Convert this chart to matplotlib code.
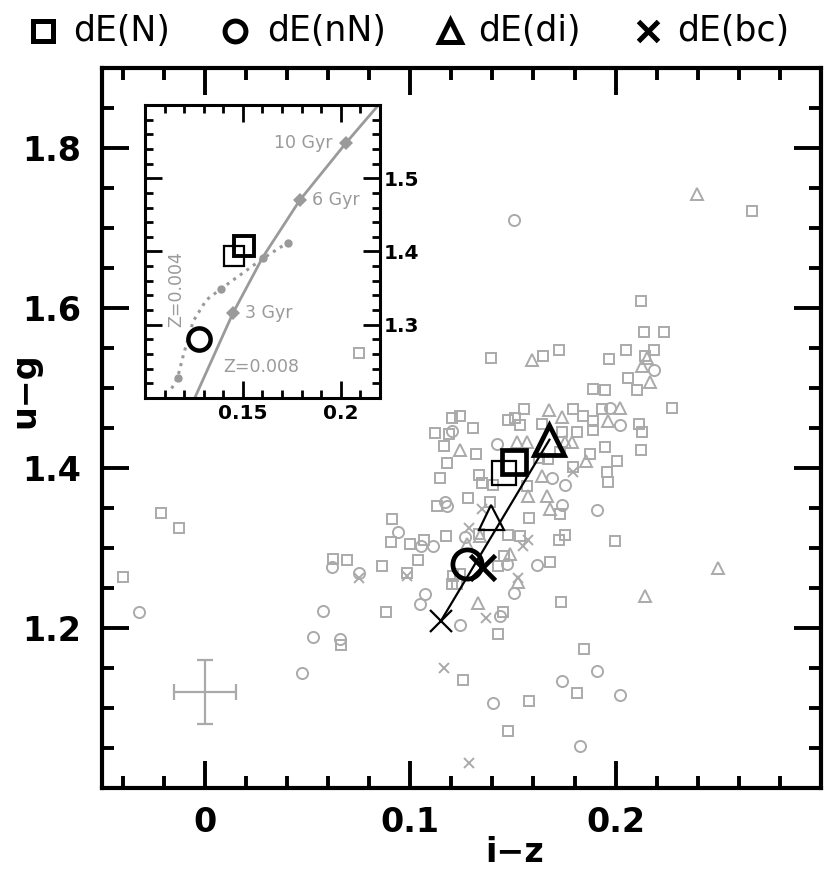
import matplotlib
matplotlib.use("Agg")
import matplotlib.pyplot as plt
from matplotlib.ticker import MultipleLocator, FixedLocator, FuncFormatter
from matplotlib.lines import Line2D

plt.rcParams['font.family'] = ['DejaVu Sans']

# gray points: individual galaxies (i-z, u-g)
sq_x = [0.0753, 0.2665, 0.2124, 0.214, 0.2236, 0.1394, 0.1646, 0.1726, 0.197, 0.2051,
        0.2144, 0.2187, 0.2062, 0.2103, 0.1889, 0.1949, 0.2273, 0.1203, 0.1243, 0.1556,
        0.1475, 0.1511, 0.1535, 0.1795, 0.1843, 0.1933, 0.1892, 0.2116, 0.1308, 0.1121,
        0.119, 0.164, 0.1738, 0.1811, 0.1889, 0.2127, 0.2124, 0.1949, 0.2006, 0.1876,
        0.1795, 0.1957, 0.1965, 0.1673, 0.1625, 0.173, 0.1167, 0.1321, 0.1181, 0.1146,
        0.1337, 0.1348, 0.1405, 0.1567, 0.173, 0.128, 0.1129, 0.1389, 0.158, 0.1335,
        0.091, 0.0905, 0.0999, 0.1068, 0.1173, 0.1478, 0.1535, 0.1726, 0.1754, 0.1995,
        0.0626, 0.0691, 0.0865, 0.0986, 0.1037, 0.1457, 0.1429, 0.1681, 0.121, 0.1243,
        0.1202, 0.1227, 0.1451, 0.0881, 0.0664, 0.1734, 0.1429, 0.1848, 0.1256, 0.1811,
        0.158, 0.1478, -0.0213, -0.0125, -0.0399]
sq_y = [1.544, 1.721, 1.609, 1.570, 1.570, 1.537, 1.540, 1.547, 1.536, 1.547,
        1.540, 1.547, 1.513, 1.498, 1.499, 1.497, 1.475, 1.462, 1.465, 1.474,
        1.460, 1.463, 1.454, 1.474, 1.465, 1.474, 1.459, 1.455, 1.450, 1.444,
        1.443, 1.455, 1.445, 1.445, 1.448, 1.445, 1.4225, 1.426, 1.409, 1.4175,
        1.401, 1.395, 1.382, 1.411, 1.413, 1.420, 1.428, 1.4175, 1.406, 1.387,
        1.391, 1.381, 1.379, 1.378, 1.3425, 1.363, 1.353, 1.357, 1.337, 1.318,
        1.336, 1.307, 1.305, 1.3104, 1.3146, 1.316, 1.3146, 1.310, 1.316, 1.309,
        1.286, 1.285, 1.277, 1.269, 1.285, 1.290, 1.278, 1.283, 1.265, 1.2675,
        1.255, 1.255, 1.2196, 1.2204, 1.1788, 1.2329, 1.1925, 1.1738, 1.135, 1.1184,
        1.1091, 1.0716, 1.344, 1.3246, 1.2634]

ci_x = [0.1507, 0.2187, 0.1973, 0.2022, 0.1203, 0.1421, 0.169, 0.1754, 0.1738, 0.1908,
        0.117, 0.118, 0.1267, 0.0942, 0.1051, 0.1113, 0.0618, 0.0751, 0.147, 0.1616,
        0.1507, 0.1072, 0.1048, 0.1438, 0.1243, 0.0577, 0.0529, 0.0659, 0.0474, 0.1738,
        0.1911, 0.2019, 0.1405, 0.1827, -0.0318]
ci_y = [1.71, 1.522, 1.475, 1.454, 1.446, 1.43, 1.388, 1.379, 1.354, 1.348,
        1.358, 1.352, 1.3134, 1.3196, 1.302, 1.302, 1.276, 1.269, 1.28, 1.279,
        1.2438, 1.2425, 1.23, 1.2154, 1.2038, 1.2216, 1.1884, 1.186, 1.1438, 1.1334,
        1.1466, 1.1163, 1.1063, 1.0521, 1.2204]

tr_x = [0.2395, 0.1595, 0.2155, 0.2127, 0.2168, 0.1678, 0.1738, 0.2022, 0.1965, 0.1519,
        0.1567, 0.1754, 0.1787, 0.1856, 0.1243, 0.164, 0.1575, 0.1665, 0.1681, 0.134,
        0.1275, 0.1486, 0.1527, 0.1329, 0.2144, 0.25]
tr_y = [1.7425, 1.535, 1.538, 1.528, 1.507, 1.472, 1.464, 1.475, 1.459, 1.433,
        1.433, 1.433, 1.433, 1.409, 1.422, 1.390, 1.365, 1.365, 1.349, 1.315,
        1.305, 1.2925, 1.257, 1.231, 1.2404, 1.275]

cr_x = [0.1795, 0.1348, 0.1284, 0.1548, 0.1575, 0.0751, 0.0986, 0.1527, 0.137, 0.1165, 0.1284]
cr_y = [1.395, 1.349, 1.3246, 1.303, 1.310, 1.2625, 1.265, 1.262, 1.2125, 1.1496, 1.0313]

# black mean values (bold and thin versions)
bold_x = {'s': 0.1505, 'o': 0.1277, '^': 0.1678, 'x': 0.1349}
bold_y = {'s': 1.4073, 'o': 1.280, '^': 1.4354, 'x': 1.2758}
thin_x = {'s': 0.1457, '^': 0.1392, 'x': 0.115}
thin_y = {'s': 1.3933, '^': 1.3383, 'x': 1.209}

# typical error
err_x, err_y = 0.0, 1.12
err_dx, err_dy = 0.015, 0.04

# model tracks for the inset
z008_x = [0.1235, 0.1254, 0.1449, 0.1601, 0.1791, 0.2028, 0.2186, 0.222]
z008_y = [1.19, 1.2, 1.3158, 1.392, 1.4702, 1.5486, 1.598, 1.607]
age_x = [0.1449, 0.1791, 0.2028]
age_y = [1.3158, 1.4702, 1.5486]
age_lab = ['3 Gyr', '6 Gyr', '10 Gyr']
z004_x = [0.1136, 0.1166, 0.1195, 0.1246, 0.1313, 0.139, 0.1605, 0.1728]
z004_y = [1.213, 1.2273, 1.2577, 1.3047, 1.3338, 1.3494, 1.391, 1.412]
z004_mx = [0.1166, 0.139, 0.1605, 0.1728]
z004_my = [1.2273, 1.3494, 1.391, 1.412]

labels = ['dE(N)', 'dE(nN)', 'dE(di)', 'dE(bc)']
markers = ['s', 'o', '^', 'x']

gray = '#aaaaaa'
tgray = '#9a9a9a'

fig = plt.figure(figsize=(8.3, 8.69), dpi=100)
ax = fig.add_axes([0.1229, 0.0932, 0.8663, 0.8285])


def gray_points(a, **kw):
    a.plot(sq_x, sq_y, 's', ms=7.5, mfc='none', mec=gray, mew=1.4, **kw)
    a.plot(ci_x, ci_y, 'o', ms=8, mfc='none', mec=gray, mew=1.4, **kw)
    a.plot(tr_x, tr_y, '^', ms=8.5, mfc='none', mec=gray, mew=1.4, **kw)
    a.plot(cr_x, cr_y, 'x', ms=7, mec=gray, mew=1.4, **kw)


gray_points(ax)
ax.errorbar([err_x], [err_y], xerr=[err_dx], yerr=[err_dy], fmt='none',
            ecolor=gray, elinewidth=1.6, capsize=5.5, capthick=1.6)

ax.plot([thin_x['x'], bold_x['^']], [thin_y['x'], bold_y['^']], color='k', lw=1.6, zorder=4)
bsize = {'s': 17, 'o': 21, '^': 21, 'x': 18}
for m in markers:
    ax.plot(bold_x[m], bold_y[m], m, ms=bsize[m], mfc='none', mec='k', mew=3.4, zorder=5)
tsize = {'s': 17, '^': 18, 'x': 16}
for m in thin_x:
    ax.plot(thin_x[m], thin_y[m], m, ms=tsize[m], mfc='none', mec='k', mew=1.6, zorder=5)

ax.set_xlim(-0.05, 0.3)
ax.set_ylim(1.0, 1.9)
ax.xaxis.set_major_locator(FixedLocator([0.0, 0.1, 0.2]))
ax.xaxis.set_minor_locator(MultipleLocator(0.02))
ax.yaxis.set_major_locator(FixedLocator([1.2, 1.4, 1.6, 1.8]))
ax.yaxis.set_minor_locator(MultipleLocator(0.05))
ax.xaxis.set_major_formatter(FuncFormatter(lambda v, p: '%g' % round(v, 3)))
ax.yaxis.set_major_formatter(FuncFormatter(lambda v, p: '%.1f' % v))
ax.tick_params(which='both', direction='in', top=True, right=True, width=2.8)
ax.tick_params(which='major', length=19.5, labelsize=24)
ax.tick_params(which='minor', length=8.6)
ax.tick_params(axis='y', pad=15)
ax.tick_params(axis='x', pad=13)
for lab in ax.get_xticklabels() + ax.get_yticklabels():
    lab.set_fontweight('bold')
for s in ax.spines.values():
    s.set_linewidth(3)

fig.text(25 / 830, 1 - 390 / 869, 'u\u2212g', rotation=90, ha='center', va='center',
         fontsize=24, fontweight='bold')
fig.text(515 / 830, 1 - 862 / 869, 'i\u2212z', ha='center', va='baseline',
         fontsize=24, fontweight='bold')

# legend along the top
mk_px = [42.5, 235, 450, 648]
tx_px = [73, 267, 478, 677]
lsize = {'s': 14, 'o': 15, '^': 16, 'x': 14}
ly = 1 - 31 / 869
for m, lab, mx, tx in zip(markers, labels, mk_px, tx_px):
    fig.add_artist(Line2D([mx / 830], [ly], transform=fig.transFigure, marker=m,
                          ms=lsize[m], mfc='none', mec='k', mew=3.6, ls='none'))
    fig.text(tx / 830, ly, lab, ha='left', va='center', fontsize=25)

# inset
ai = fig.add_axes([0.1747, 0.5420, 0.2831, 0.3372])
ai.set_facecolor('white')
ai.plot(z008_x, z008_y, '-', color=tgray, lw=2)
ai.plot(age_x, age_y, 'D', color=tgray, ms=7.5, mew=0)
ai.plot(z004_x, z004_y, ':', color=tgray, lw=2.2)
ai.plot(z004_mx, z004_my, 'o', color=tgray, ms=6, mew=0)
ai.text(age_x[2] - 0.0072, age_y[2], age_lab[2], color=tgray, fontsize=12.5,
        ha='right', va='center')
ai.text(age_x[1] + 0.0061, age_y[1], age_lab[1], color=tgray, fontsize=12.5,
        ha='left', va='center')
ai.text(age_x[0] + 0.0064, age_y[0], age_lab[0], color=tgray, fontsize=12.5,
        ha='left', va='center')
ai.text(0.1593, 1.242, 'Z=0.008', color=tgray, fontsize=12.5, ha='center', va='center')
ai.text(0.1161, 1.349, 'Z=0.004', color=tgray, fontsize=12.5, ha='center', va='center',
        rotation=90)
ai.plot(bold_x['s'], bold_y['s'], 's', ms=14.5, mfc='none', mec='k', mew=2.8, zorder=5)
ai.plot(thin_x['s'], thin_y['s'], 's', ms=14.5, mfc='none', mec='k', mew=1.6, zorder=5)
ai.plot(bold_x['o'], bold_y['o'], 'o', ms=16, mfc='none', mec='k', mew=3.2, zorder=5)
# main-panel points drawn over the inset
gray_points(ai, transform=ax.transData)

ai.set_xlim(0.10, 0.22)
ai.set_ylim(1.2, 1.6)
ai.xaxis.set_major_locator(FixedLocator([0.15, 0.2]))
ai.xaxis.set_minor_locator(MultipleLocator(0.01))
ai.yaxis.set_major_locator(FixedLocator([1.3, 1.4, 1.5]))
ai.yaxis.set_minor_locator(MultipleLocator(0.02))
ai.xaxis.set_major_formatter(FuncFormatter(lambda v, p: '%g' % round(v, 3)))
ai.yaxis.set_major_formatter(FuncFormatter(lambda v, p: '%.1f' % v))
ai.tick_params(which='both', direction='in', top=True, right=True, left=True,
               labelleft=False, labelright=True, width=2)
ai.tick_params(which='major', length=12, labelsize=14.5)
ai.tick_params(which='minor', length=6)
ai.tick_params(axis='x', pad=4)
ai.tick_params(axis='y', pad=3)
for lab in ai.get_xticklabels() + ai.get_yticklabels():
    lab.set_fontweight('bold')
for s in ai.spines.values():
    s.set_linewidth(2.2)

fig.savefig('out.png', dpi=100)
